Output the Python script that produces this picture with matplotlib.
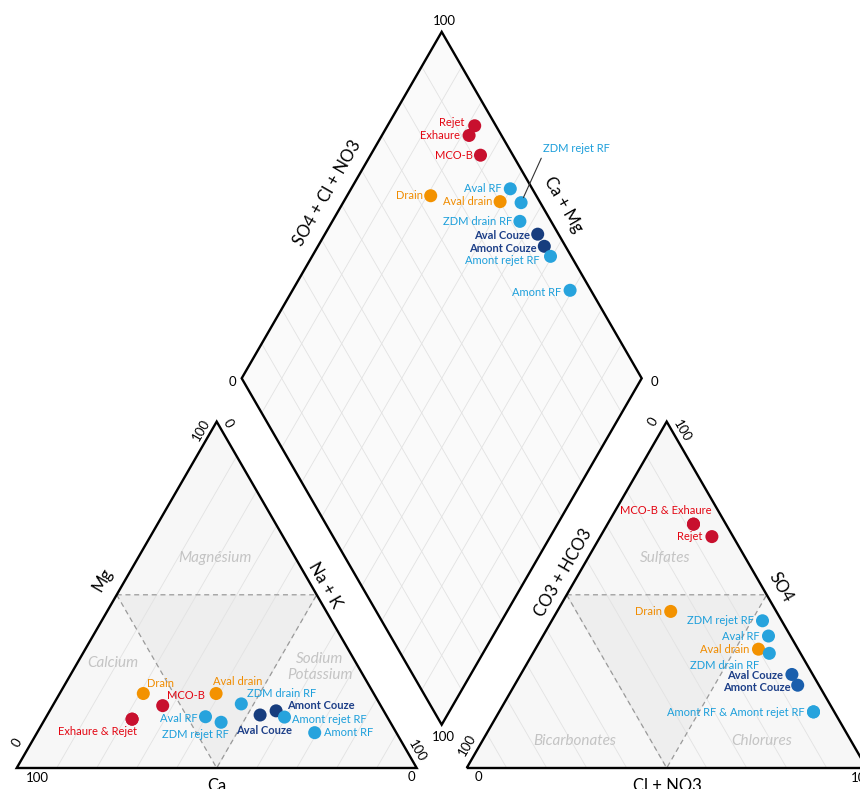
import numpy as np
import matplotlib
matplotlib.use("Agg")
import matplotlib.pyplot as plt
from matplotlib.patches import Polygon

# ---------------- data (percent) ----------------
samples = ["Drain", "Aval drain", "MCO-B", "Exhaure", "Rejet", "ZDM drain RF",
           "Aval RF", "ZDM rejet RF", "Aval Couze", "Amont Couze",
           "Amont rejet RF", "Amont RF"]
groups = ["drain", "drain", "mine", "mine", "mine", "rf",
          "rf", "rf", "couze", "couze", "rf", "rf"]

# cations
ca  = [57.6, 39.4, 54.5, 64.1, 64.1, 34.6, 45.4, 42.3, 31.5, 26.9, 25.7, 20.4]
mg  = [21.5, 21.5, 18.0, 14.1, 14.1, 18.5, 14.8, 13.2, 15.3, 16.5, 14.7, 10.2]
nak = [20.9, 39.1, 27.5, 21.8, 21.8, 46.9, 39.8, 44.5, 53.2, 56.6, 59.6, 69.4]
# anions
hco3 = [26.4, 9.9, 8.1, 8.1, 5.3, 7.8, 5.5, 4.8, 5.2, 5.3, 5.2, 5.2]
so4  = [45.2, 34.3, 70.4, 70.4, 66.8, 33.1, 38.1, 42.5, 27.0, 23.9, 16.2, 16.2]
clno3 = [28.4, 55.8, 21.5, 21.5, 27.9, 59.1, 56.4, 52.7, 67.8, 70.8, 78.6, 78.6]

# labels: (sample index, text, dx px, dy px, ha)
labels_cat = [
    (0, "Drain", 4, 10, "left"),
    (1, "Aval drain", -3, 12, "left"),
    (2, "MCO-B", 4, 10, "left"),
    (3, "Exhaure & Rejet", 5, -12, "right"),
    (5, "ZDM drain RF", 6, 10, "left"),
    (6, "Aval RF", -8, -2, "right"),
    (7, "ZDM rejet RF", 8, -12, "right"),
    (8, "Aval Couze", 4, -16, "center"),
    (9, "Amont Couze", 11, 5, "left"),
    (10, "Amont rejet RF", 8, -2, "left"),
    (11, "Amont RF", 9, 0, "left"),
]
labels_an = [
    (2, "MCO-B & Exhaure", 18, 14, "right"),
    (4, "Rejet", -10, 0, "right"),
    (0, "Drain", -9, 0, "right"),
    (7, "ZDM rejet RF", -9, 0, "right"),
    (6, "Aval RF", -9, 0, "right"),
    (1, "Aval drain", -9, 0, "right"),
    (5, "ZDM drain RF", -10, -12, "right"),
    (8, "Aval Couze", -9, -1, "right"),
    (9, "Amont Couze", -7, -2, "right"),
    (11, "Amont RF & Amont rejet RF", -9, -1, "right"),
]
labels_dia = [
    (4, "Rejet", -10, 3, "right"),
    (3, "Exhaure", -9, 0, "right"),
    (2, "MCO-B", -8, 0, "right"),
    (0, "Drain", -8, 0, "right"),
    (6, "Aval RF", -9, 0, "right"),
    (1, "Aval drain", -8, 0, "right"),
    (5, "ZDM drain RF", -8, 0, "right"),
    (8, "Aval Couze", -8, -1, "right"),
    (9, "Amont Couze", -8, -2, "right"),
    (10, "Amont rejet RF", -11, -4, "right"),
    (11, "Amont RF", -9, -2, "right"),
]

# ---------------- styles ----------------
marker_col = {"drain": "#f39200", "mine": "#c8102e", "rf": "#27a3dd", "couze": "#173d7e"}
marker_col_an = {"drain": "#f39200", "mine": "#c8102e", "rf": "#27a3dd", "couze": "#1a5fad"}
text_col = {"drain": "#f08c00", "mine": "#e30613", "rf": "#1d9fdb", "couze": "#1d3f88"}

FONT = ["Lato", "DejaVu Sans"]
plt.rcParams["font.family"] = FONT

G = 0.125
S = np.sqrt(3) / 2
PX = 400.0
X0, Y0 = 16.7, 768.0
W, H = 860, 789


def px2d(px, py):
    return ((px - X0) / PX, (Y0 - py) / PX)


def cat_xy(m, n):
    return n + m / 2, m * S


def an_xy(s, c):
    return 1 + G + c + s / 2, s * S


def dia_xy(n, sc):
    t = 1 + G + sc - n
    return n + t / 2, t * S


fig = plt.figure(figsize=(W / 100, H / 100), dpi=100)
ax = fig.add_axes([0, 0, 1, 1])
ax.set_xlim(-X0 / PX, (W - X0) / PX)
ax.set_ylim(-(H - Y0) / PX, Y0 / PX)
ax.set_aspect("equal")
ax.axis("off")

edge_kw = dict(fill=False, edgecolor="black", lw=1.7, joinstyle="miter", zorder=5)
fill_col = "#f7f7f7"
inner_col = "#eeeeee"
grid_kw = dict(color="#e2e2e2", lw=0.6, zorder=1)
dash_kw = dict(color="#9a9a9a", lw=0.9, ls=(0, (4, 3)), zorder=3)

# shapes
left_tri = [(0, 0), (1, 0), (0.5, S)]
right_tri = [(1 + G, 0), (2 + G, 0), (1.5 + G, S)]
diamond = [dia_xy(1, 0), dia_xy(0, 0), dia_xy(0, 1), dia_xy(1, 1)]
for poly, fc in ((left_tri, fill_col), (right_tri, fill_col), (diamond, "#fafafa")):
    ax.add_patch(Polygon(poly, closed=True, facecolor=fc, edgecolor="none", zorder=0))
    ax.add_patch(Polygon(poly, closed=True, **edge_kw))

# inner (mixed) triangles
inner_l = [cat_xy(0.5, 0), cat_xy(0.5, 0.5), cat_xy(0, 0.5)]
inner_r = [an_xy(0.5, 0), an_xy(0.5, 0.5), an_xy(0, 0.5)]
for poly in (inner_l, inner_r):
    ax.add_patch(Polygon(poly, closed=True, facecolor=inner_col, edgecolor="none", zorder=0.5))
    xs = [p[0] for p in poly] + [poly[0][0]]
    ys = [p[1] for p in poly] + [poly[0][1]]
    ax.plot(xs, ys, **dash_kw)

# grids
for k in range(1, 10):
    v = k / 10
    a = cat_xy(0, v); b = cat_xy(1 - v, v)
    ax.plot([a[0], b[0]], [a[1], b[1]], **grid_kw)
    a = an_xy(0, 1 - v); b = an_xy(1 - v, 0)
    ax.plot([a[0], b[0]], [a[1], b[1]], **grid_kw)
    a = dia_xy(v, 0); b = dia_xy(v, 1)
    ax.plot([a[0], b[0]], [a[1], b[1]], **grid_kw)
    a = dia_xy(0, v); b = dia_xy(1, v)
    ax.plot([a[0], b[0]], [a[1], b[1]], **grid_kw)

# ---------------- points ----------------
ms = 88
mgf = np.array(mg) / 100; nkf = np.array(nak) / 100
sof = np.array(so4) / 100; clf = np.array(clno3) / 100
cat_pts = [cat_xy(m, n) for m, n in zip(mgf, nkf)]
an_pts = [an_xy(s, c) for s, c in zip(sof, clf)]
dia_pts = [dia_xy(n, s + c) for n, s, c in zip(nkf, sof, clf)]

for i, g in enumerate(groups):
    ax.scatter(*cat_pts[i], s=ms, color=marker_col[g], edgecolors="none", zorder=10)
    ax.scatter(*an_pts[i], s=ms, color=marker_col_an[g], edgecolors="none", zorder=10)
    ax.scatter(*dia_pts[i], s=ms, color=marker_col[g], edgecolors="none", zorder=10)

LFS = 8.0
def put_labels(lst, pts):
    for i, txt, dx, dy, ha in lst:
        g = groups[i]
        ax.annotate(txt, xy=pts[i], xytext=(dx * 0.72, dy * 0.72),
                    textcoords="offset points", ha=ha, va="center",
                    fontsize=LFS, color=text_col[g],
                    fontweight="bold" if g == "couze" else "normal", zorder=11)

put_labels(labels_cat, cat_pts)
put_labels(labels_an, an_pts)
put_labels(labels_dia, dia_pts)

# leader-line label
ax.annotate("ZDM rejet RF", xy=dia_pts[7], xytext=(22 * 0.72, 54 * 0.72),
            textcoords="offset points", ha="left", va="center", fontsize=LFS,
            color=text_col["rf"], zorder=11,
            arrowprops=dict(arrowstyle="-", color="#333333", lw=0.8,
                            shrinkA=1, shrinkB=4, relpos=(0, 0)))

# ---------------- region names ----------------
reg_kw = dict(fontsize=11, style="italic", color="#c4c4c4", ha="center", va="center", zorder=4)
for txt, (px, py) in [("Magnésium", (215, 558)), ("Calcium", (113, 663)),
                      ("Sodium\nPotassium", (320, 667)), ("Sulfates", (665, 558)),
                      ("Bicarbonates", (575, 741)), ("Chlorures", (762, 741))]:
    ax.text(*px2d(px, py), txt, linespacing=1.15, **reg_kw)

# ---------------- axis titles ----------------
tit_kw = dict(fontsize=12, color="black", ha="center", va="center", zorder=6)
for txt, (px, py), rot in [("Mg", (103, 580), 60), ("Na + K", (325, 585), -60),
                           ("CO3 + HCO3", (563, 573), 60), ("SO4", (781, 587), -60),
                           ("SO4 + Cl + NO3", (327, 193), 60), ("Ca + Mg", (563, 205), -60),
                           ("Ca", (217, 786), 0), ("Cl + NO3", (667, 786), 0)]:
    ax.text(*px2d(px, py), txt, rotation=rot, rotation_mode="anchor", **tit_kw)

# ---------------- tick labels ----------------
tk_kw = dict(fontsize=9.5, color="black", ha="center", va="center", zorder=6)
for txt, (px, py), rot in [
        ("100", (444, 21), 0), ("0", (232, 382), 0), ("0", (654, 382), 0),
        ("100", (443, 737), 0),
        ("0", (17, 743), 60), ("100", (37, 778), 0),
        ("100", (201, 430), 60), ("0", (228, 423), -60),
        ("100", (417, 751), -60), ("0", (411, 777), 0),
        ("100", (467, 745), 60), ("0", (478, 777), 0),
        ("0", (653, 422), 60), ("100", (682, 431), -60),
        ("0", (863, 745), -60), ("100", (862, 778), 0)]:
    ax.text(*px2d(px, py), txt, rotation=rot, rotation_mode="anchor", **tk_kw)

fig.savefig("out.png", dpi=100)
